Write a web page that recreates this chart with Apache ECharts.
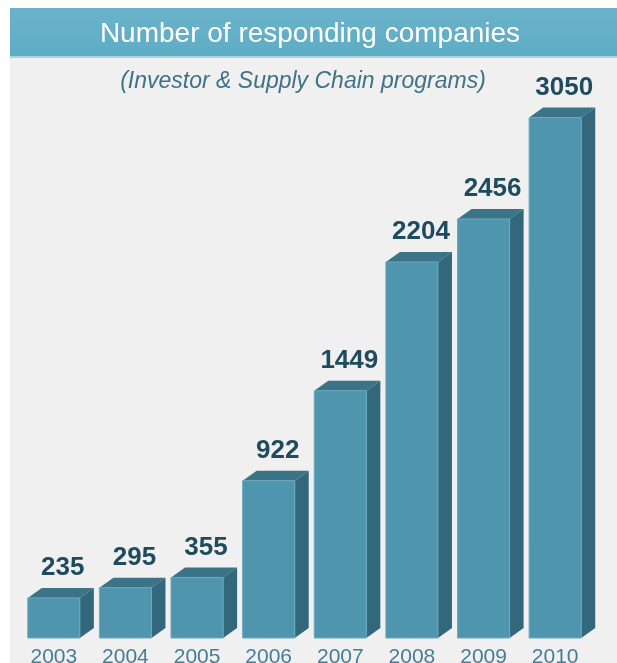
<!DOCTYPE html>
<html><head><meta charset="utf-8">
<script src="https://cdn.jsdelivr.net/npm/echarts@6/dist/echarts.min.js"></script>
<style>html,body{margin:0;padding:0;background:#fff}#c{width:617px;height:663px}</style>
</head><body><div id="c"></div>
<script>
const years = ['2003','2004','2005','2006','2007','2008','2009','2010'];
const companies = [235, 295, 355, 922, 1449, 2204, 2456, 3050];
const titleText = 'Number of responding companies';
const subtitleText = '(Investor & Supply Chain programs)';

const chart = echarts.init(document.getElementById('c'));
const DX = 14, DY = 10;
chart.setOption({
  backgroundColor: '#f0f0f0',
  animation: false,
  graphic: [
    {type:'rect', shape:{x:0,y:0,width:10,height:663}, style:{fill:'#ffffff'}, z:-1},
    {type:'rect', shape:{x:0,y:0,width:617,height:8}, style:{fill:'#ffffff'}, z:-1},
    {type:'rect', shape:{x:10,y:8,width:607,height:49}, style:{fill:new echarts.graphic.LinearGradient(0,0,0,1,[{offset:0,color:'#6ab3ca'},{offset:1,color:'#5eacc5'}])}, z:0},
    {type:'rect', shape:{x:10,y:56,width:607,height:2}, style:{fill:'#a9d3e1'}, z:0},
    {type:'text', x:310, y:34, style:{text:titleText, fill:'#ffffff', font:'28px Arial, "Liberation Sans", sans-serif', textAlign:'center', textVerticalAlign:'middle'}, z:2},
    {type:'text', x:303, y:82, style:{text:subtitleText, fill:'#3f7289', font:'italic 23px Arial, "Liberation Sans", sans-serif', textAlign:'center', textVerticalAlign:'middle'}, z:2}
  ],
  grid: {left: 18, right: 26, top: 92, bottom: 25, containLabel:false, outerBoundsMode:'none'},
  xAxis: {
    type: 'category', data: years,
    axisLine:{show:false}, axisTick:{show:false},
    axisLabel:{color:'#477d94', fontSize:21, fontFamily:'Arial, "Liberation Sans", sans-serif', margin:9}
  },
  yAxis: {type:'value', min:0, max:3200, show:false, splitLine:{show:false}},
  series: [{
    type: 'custom',
    data: companies,
    renderItem: function(params, api){
      const idx = params.dataIndex;
      const p0 = api.coord([idx, 0]);
      const p1 = api.coord([idx, companies[idx]]);
      const band = api.size([1,0])[0];
      const w = band * 0.727;
      const xl = p0[0] - w/2, xr = p0[0] + w/2;
      const yb = p0[1], yt = p1[1];
      return {type:'group', children:[
        {type:'polygon', shape:{points:[[xr,yb],[xr+DX,yb-DY],[xr+DX,yt-DY],[xr,yt]]}, style:{fill:'#33687c'}},
        {type:'polygon', shape:{points:[[xl,yt],[xl+DX,yt-DY],[xr+DX,yt-DY],[xr,yt]]}, style:{fill:'#3b7387'}},
        {type:'rect', shape:{x:xl,y:yt,width:w,height:yb-yt}, style:{fill:'#4f95ad', stroke:'#6aa9bf', lineWidth:1}},
        {type:'text', x:p0[0]+9, y:yt-DY-20, style:{text:String(companies[idx]), fill:'#1f4b5f', font:'bold 26px Arial, "Liberation Sans", sans-serif', textAlign:'center', textVerticalAlign:'middle'}}
      ]};
    }
  }]
});
</script></body></html>
